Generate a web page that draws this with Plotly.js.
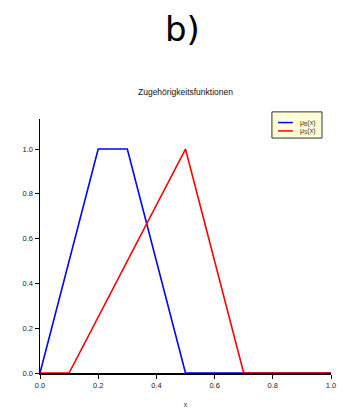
<!DOCTYPE html>
<html><head><meta charset="utf-8">
<script src="https://cdn.plot.ly/plotly-3.0.1.min.js"></script>
<style>body{margin:0;background:#fff}#c{width:347px;height:408px}</style>
</head><body><div id="c"></div>
<script>
const xB = [0, 0.2, 0.3, 0.5, 1.0];
const yB = [0, 1, 1, 0, 0];
const xS = [0, 0.1, 0.5, 0.7, 1.0];
const yS = [0, 0, 1, 0, 0];
const seriesNames = ['μ<sub>B</sub>(x)', 'μ<sub>S</sub>(x)'];
const seriesColors = ['#0000ff', '#ff0000'];
const xTicks = [0, 0.2, 0.4, 0.6, 0.8, 1.0];
const xTickText = ['0.0','0.2','0.4','0.6','0.8','1.0'];
const yTicks = [0, 0.2, 0.4, 0.6, 0.8, 1.0];
const yTickText = ['0.0','0.2','0.4','0.6','0.8','1.0'];

const traces = [
  {x: xB, y: yB, mode: 'lines', name: seriesNames[0], line: {color: seriesColors[0], width: 1.6}},
  {x: xS, y: yS, mode: 'lines', name: seriesNames[1], line: {color: seriesColors[1], width: 1.6}}
];
const fam = 'Liberation Sans, Arial, sans-serif';
const axFont = {family: fam, size: 7.5, color: '#222'};

// compact legend drawn with shapes + annotations (paper coords)
const legRowY = [0.986, 0.953];
const shapes = [
  {type: 'rect', xref: 'paper', yref: 'paper', x0: 0.797, x1: 0.969, y0: 0.925, y1: 1.028,
   fillcolor: '#ffffd8', line: {color: '#333', width: 1}, layer: 'above'}
];
const annotations = [
  {text: 'b)', xref: 'paper', yref: 'paper', x: 0.49, y: 1.0, yshift: 90, showarrow: false,
   xanchor: 'center', yanchor: 'middle', font: {family: 'DejaVu Sans, sans-serif', size: 34, color: '#000'}},
  {text: 'Zugehörigkeitsfunktionen', xref: 'paper', yref: 'paper', x: 0.5, y: 1.0, yshift: 27, showarrow: false,
   xanchor: 'center', yanchor: 'middle', font: {family: fam, size: 8.5, color: '#111'}}
];
seriesNames.forEach((n, i) => {
  shapes.push({type: 'line', xref: 'paper', yref: 'paper', x0: 0.818, x1: 0.869, y0: legRowY[i], y1: legRowY[i],
    line: {color: seriesColors[i], width: 1.5}, layer: 'above'});
  annotations.push({text: n, xref: 'paper', yref: 'paper', x: 0.888, y: legRowY[i], showarrow: false,
    xanchor: 'left', yanchor: 'middle', font: {family: fam, size: 7, color: '#333'}});
});

const layout = {
  width: 347, height: 408,
  margin: {l: 40, r: 16, t: 119, b: 35},
  paper_bgcolor: '#fff', plot_bgcolor: '#fff',
  showlegend: false,
  xaxis: {range: [0, 1.0], tickvals: xTicks, ticktext: xTickText, ticks: 'outside', ticklen: 4,
    tickcolor: '#000', showline: true, linecolor: '#000', linewidth: 1.5, showgrid: false, zeroline: false,
    tickfont: axFont, title: {text: 'x', font: {family: fam, size: 7, color: '#333'}, standoff: 24}, fixedrange: true},
  yaxis: {range: [0, 1.134], tickvals: yTicks, ticktext: yTickText, ticks: 'outside', ticklen: 4,
    tickcolor: '#000', showline: true, linecolor: '#000', linewidth: 1.5, showgrid: false, zeroline: false,
    tickfont: axFont, fixedrange: true},
  shapes: shapes,
  annotations: annotations
};
Plotly.newPlot('c', traces, layout, {displayModeBar: false, staticPlot: true});
</script></body></html>
